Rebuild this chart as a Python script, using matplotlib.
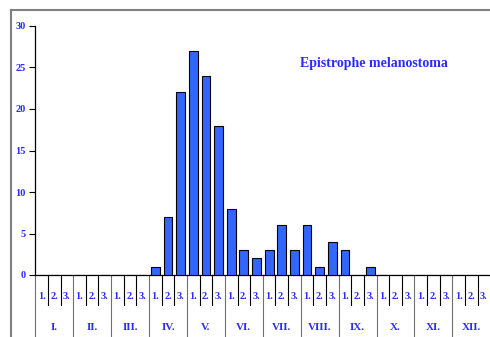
import matplotlib
matplotlib.use("Agg")
import matplotlib.pyplot as plt
from matplotlib.lines import Line2D

# decades of each month (1., 2., 3.) for months I..XII
months = ["I.", "II.", "III.", "IV.", "V.", "VI.", "VII.", "VIII.", "IX.", "X.", "XI.", "XII."]
decades = ["1.", "2.", "3."]
counts = [0, 0, 0,   0, 0, 0,   0, 0, 0,   1, 7, 22,
          27, 24, 18, 8, 3, 2,  3, 6, 3,   6, 1, 4,
          3, 0, 1,   0, 0, 0,   0, 0, 0,   0, 0, 0]
title = "Epistrophe melanostoma"

blue = "#2b2bff"
plt.rcParams['font.family'] = ['Liberation Serif', 'DejaVu Serif']

fig = plt.figure(figsize=(4.9, 3.37), dpi=100)
ax = fig.add_axes([35.3 / 490, 1 - 275 / 337, 455 / 490, 249 / 337])

n = len(counts)
xs = [i + 0.5 for i in range(n)]
ax.bar(xs, counts, width=0.7, color="#3366ff", edgecolor="black", linewidth=0.8, zorder=3)

ax.set_xlim(0, n)
ax.set_ylim(0, 30)
ax.set_yticks(range(0, 31, 5))
ax.tick_params(axis="y", direction="out", length=4, width=0.8, labelsize=7.5, labelcolor=blue, pad=3)
for lab in ax.get_yticklabels():
    lab.set_fontweight("bold")
ax.set_xticks([])
for s in ["top", "right"]:
    ax.spines[s].set_visible(False)
ax.spines["left"].set_linewidth(0.9)
ax.spines["bottom"].set_linewidth(0.9)

trans = ax.get_xaxis_transform()
# decade labels and short separators
for i in range(n):
    ax.text(i + 0.5, -0.085, decades[i % 3], transform=trans, ha="center", va="center",
            fontsize=7.5, fontweight="bold", color=blue)
    if i % 3 != 0:
        ax.add_line(Line2D([i, i], [0, -0.12], transform=trans, color="black",
                           linewidth=0.8, clip_on=False))
# month labels and long separators
for m in range(len(months)):
    ax.text(m * 3 + 1.5, -0.21, months[m], transform=trans, ha="center", va="center",
            fontsize=8, fontweight="bold", color=blue)
    ax.add_line(Line2D([m * 3, m * 3], [0, -0.3], transform=trans, color="#707070",
                       linewidth=0.8, clip_on=False))

ax.text(0.745, 0.85, title, transform=ax.transAxes, ha="center", va="center",
        fontsize=10, fontweight="bold", color=blue)

# grey outer frame (top and left edge)
fig.add_artist(Line2D([11 / 490, 11 / 490], [0, 1 - 10 / 337], transform=fig.transFigure,
                      color="#808080", linewidth=1.5))
fig.add_artist(Line2D([11 / 490, 1], [1 - 10 / 337, 1 - 10 / 337], transform=fig.transFigure,
                      color="#808080", linewidth=1.5))

fig.savefig("out.png", dpi=100)
